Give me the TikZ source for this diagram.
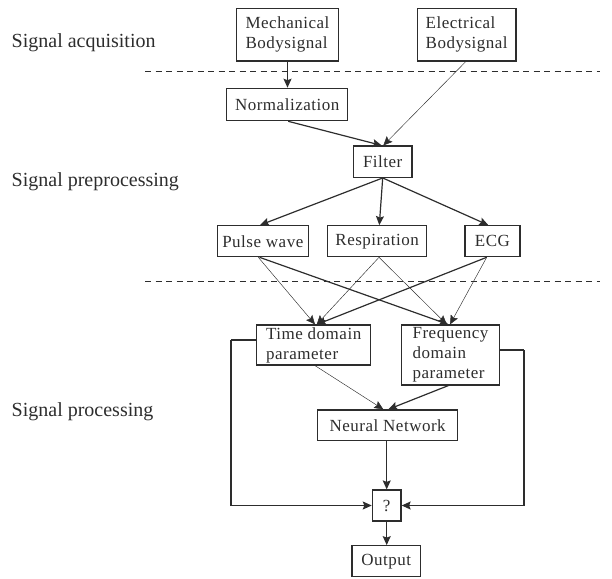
\documentclass[tikz,border=0pt]{standalone}
\usepackage{fontspec}
\setmainfont{Liberation Serif}
\newfontfamily\boxfont[LetterSpace=3]{Liberation Serif}
\usetikzlibrary{arrows.meta}
\definecolor{ink}{RGB}{45,45,45}
\begin{document}
\begin{tikzpicture}[x=1pt,y=-1pt,
  box/.style={draw=ink, line width=1.2pt, text=ink, inner sep=0pt, align=left,
    font=\boxfont\fontsize{17}{20}\selectfont},
  lab/.style={anchor=west, inner sep=0pt, text=ink, font=\fontsize{20}{24}\selectfont},
  thk/.style={draw=ink, line width=1.2pt, -{Stealth[length=9pt,width=8pt,inset=1.5pt]}},
  thn/.style={draw=ink, line width=0.45pt, -{Stealth[length=9pt,width=8pt,inset=1.5pt]}},
  sep/.style={draw=ink, line width=0.9pt, dash pattern=on 6pt off 4.5pt},
  fb/.style={draw=ink, line width=1.2pt}]
\useasboundingbox (0,0) rectangle (612,578);
% labels
\node[lab] (l1) at (11.5,43) {Signal acquisition};
\node[lab] (l2) at (11.5,182) {Signal preprocessing};
\node[lab] (l3) at (11.5,412) {Signal processing};
% separators
\coordinate (s1a) at (145,71.7); \coordinate (s1b) at (600,71.7);
\coordinate (s2a) at (145,281.7); \coordinate (s2b) at (600,281.7);
\draw[sep] (s1a) -- (s1b);
\draw[sep] (s2a) -- (s2b);
% nodes
\node[box, minimum width=101.6pt, minimum height=52.7pt] (mech) at (287.5,34.7) {Mechanical\\Bodysignal};
\node[box, minimum width=98.7pt, minimum height=52.7pt] (elec) at (466.7,34.7) {Electrical\\Bodysignal};
\node[box, minimum width=121pt, minimum height=32.4pt] (norm) at (287.2,104.5) {Normalization};
\node[box, minimum width=58.7pt, minimum height=31.3pt] (filt) at (382.7,161.7) {Filter};
\node[box, minimum width=91pt, minimum height=31pt] (pulse) at (262.8,241.2) {Pulse wave};
\node[box, minimum width=99pt, minimum height=31pt] (resp) at (377.2,241.2) {Respiration};
\node[box, minimum width=55pt, minimum height=31pt] (ecg) at (492.5,241.2) {ECG};
\node[box, minimum width=114pt, minimum height=40pt] (time) at (313.7,345) {Time domain\\parameter};
\node[box, minimum width=97.6pt, minimum height=60pt] (freq) at (450.5,355) {Frequency\\domain\\parameter};
\node[box, minimum width=140pt, minimum height=30.7pt] (nn) at (387.7,425.3) {Neural Network};
\node[box, minimum width=28.7pt, minimum height=31pt] (q) at (386.7,505.5) {?};
\node[box, minimum width=68.3pt, minimum height=31pt] (out) at (386.2,561.2) {Output};
% connectors
\draw[thk] (mech.south) -- (mech.south |- norm.north);
\draw[thk] ([xshift=1pt]norm.south) -- ([xshift=-1pt]filt.north);
\draw[thn] ([xshift=-1pt]elec.south) -- ([xshift=0.6pt]filt.north);
\draw[thk] (filt.south) -- ([xshift=-2.8pt]pulse.north);
\draw[thk] (filt.south) -- ([xshift=2.1pt]resp.north);
\draw[thk] (filt.south) -- ([xshift=-4.2pt]ecg.north);
\draw[thn] ([xshift=-4.5pt]pulse.south) -- ([xshift=1.3pt]time.north);
\draw[thk] ([xshift=-3.3pt]pulse.south) -- ([xshift=-2.2pt]freq.north);
\draw[thn] ([xshift=1.8pt]resp.south) -- ([xshift=3pt]time.north);
\draw[thn] ([xshift=1.8pt]resp.south) -- ([xshift=-3.8pt]freq.north);
\draw[thk] ([xshift=-5.8pt]ecg.south) -- ([xshift=3.3pt]time.north);
\draw[thn] ([xshift=-5.8pt]ecg.south) -- ([xshift=-0.5pt]freq.north);
\draw[thn] ([xshift=1.3pt]time.south) -- ([xshift=-4.4pt]nn.north);
\draw[thk] ([xshift=-2.2pt]freq.south) -- ([xshift=0.6pt]nn.north);
\draw[thk] ([xshift=-1pt]nn.south) -- (q.north);
\draw[thk] (q.south) -- (q.south |- out.north);
\coordinate (lt) at (231,340);
\coordinate (rt) at (524,350);
\draw[fb] ([yshift=5pt]time.west) -- (lt);
\draw[thk] (lt) |- (q.west);
\draw[fb] ([yshift=5pt]freq.east) -- (rt);
\draw[thk] (rt) |- (q.east);
\end{tikzpicture}
\end{document}
